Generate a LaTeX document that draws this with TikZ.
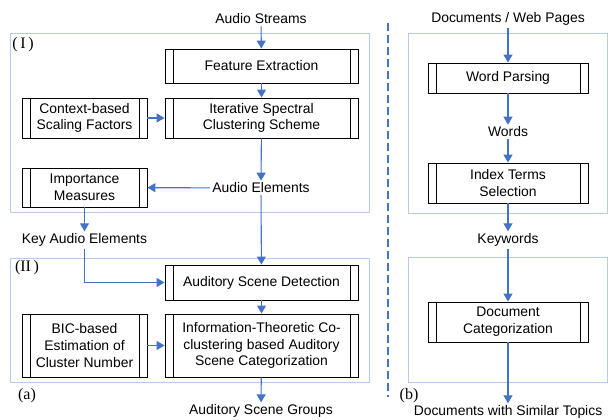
\documentclass[tikz,border=0pt]{standalone}
\usepackage{fontspec}
\setmainfont{Liberation Sans}
\newfontfamily\lblfont{Liberation Serif}
\usetikzlibrary{arrows.meta, positioning, calc}

\definecolor{arrblue}{RGB}{68,114,196}
\definecolor{grpblue}{RGB}{185,203,235}

\tikzset{
  procbox/.style={draw, line width=0.9pt, rectangle, align=center, inner sep=0pt,
    path picture={
      \draw[line width=0.9pt] ([xshift=8pt]path picture bounding box.north west) -- ([xshift=8pt]path picture bounding box.south west);
      \draw[line width=0.9pt] ([xshift=-8pt]path picture bounding box.north east) -- ([xshift=-8pt]path picture bounding box.south east);
    }},
  datatext/.style={inner sep=2pt, align=center},
  arr/.style={draw=arrblue, line width=1.1pt, -{Triangle[length=8pt,width=9pt]}},
  grp/.style={draw=grpblue, line width=1pt},
  tag/.style={font=\lblfont\fontsize{16}{18}\selectfont, inner sep=0pt}
}

\begin{document}
\begin{tikzpicture}[x=1pt, y=-1pt, font=\fontsize{13.9}{16.7}\selectfont]
    \useasboundingbox (0,0) rectangle (608,420);
    % group frames
    \draw[grp] (10,34) rectangle (369,212);
    \draw[grp] (10,258) rectangle (369,382);
    \draw[grp] (408,34) rectangle (607,213);
    \draw[grp] (408,257) rectangle (607,382);
    \draw[arrblue, line width=2pt, dash pattern=on 8pt off 4pt] (388,23) -- (388,397);
    \node[tag] (tagI) at (23,45) {(\,I\,)};
    \node[tag] (tagII) at (27,268) {(II\,)};
    \node[tag] (tagA) at (27,396) {(a)};
    \node[tag] (tagB) at (409,396) {(b)};

    % (a) audio
    \node[datatext] (streams) at (261,19) {Audio Streams};
    \node[procbox, minimum width=193pt, minimum height=34pt] (feat) at (261.5,66) {Feature Extraction};
    \node[procbox, minimum width=193pt, minimum height=40pt] (iter) at (261.5,118) {Iterative Spectral\\Clustering Scheme};
    \node[procbox, minimum width=125pt, minimum height=40pt] (ctx) at (84.5,118) {Context-based\\Scaling Factors};
    \node[datatext] (elems) at (261,188) {Audio Elements};
    \node[procbox, minimum width=125pt, minimum height=39pt] (imp) at (84.5,187.5) {Importance\\Measures};
    \node[datatext] (key) at (84.5,240) {Key Audio Elements};
    \node[procbox, minimum width=193pt, minimum height=35pt] (asd) at (261.5,282.5) {Auditory Scene Detection};
    \node[procbox, minimum width=193pt, minimum height=63pt] (itc) at (261.5,345.5) {Information-Theoretic Co-\\clustering based Auditory\\Scene Categorization};
    \node[procbox, minimum width=125pt, minimum height=63pt] (bic) at (84.5,345.5) {BIC-based\\Estimation of\\Cluster Number};
    \node[datatext] (groups) at (261,411) {Auditory Scene Groups};

    \draw[arr] (streams) -- (feat);
    \draw[arr] (feat) -- (iter);
    \draw[arr] (ctx) -- (iter);
    \draw[arr] (iter) -- (elems);
    \draw[arr] (elems) -- (imp);
    \draw[arr] (imp) -- (key);
    \draw[arr] (elems) -- (asd);
    \draw[arr] (key.south) |- (asd.west);
    \draw[arr] (asd) -- (itc);
    \draw[arr] (bic) -- (itc);
    \draw[arr] (itc) -- (groups);

    % (b) documents
    \node[datatext] (docs) at (508,19) {Documents / Web Pages};
    \node[procbox, minimum width=160pt, minimum height=30pt] (parse) at (508,78) {Word Parsing};
    \node[datatext] (words) at (508,132) {Words};
    \node[procbox, minimum width=160pt, minimum height=40pt] (terms) at (508,183) {Index Terms\\Selection};
    \node[datatext] (keyw) at (508,240) {Keywords};
    \node[procbox, minimum width=160pt, minimum height=40pt] (doccat) at (508,322) {Document\\Categorization};
    \node[datatext] (similar) at (508,412) {Documents with Similar Topics};

    \draw[arr] (docs) -- (parse);
    \draw[arr] (parse) -- (words);
    \draw[arr] (words) -- (terms);
    \draw[arr] (terms) -- (keyw);
    \draw[arr] (keyw) -- (doccat);
    \draw[arr] (doccat) -- (similar);
\end{tikzpicture}
\end{document}
